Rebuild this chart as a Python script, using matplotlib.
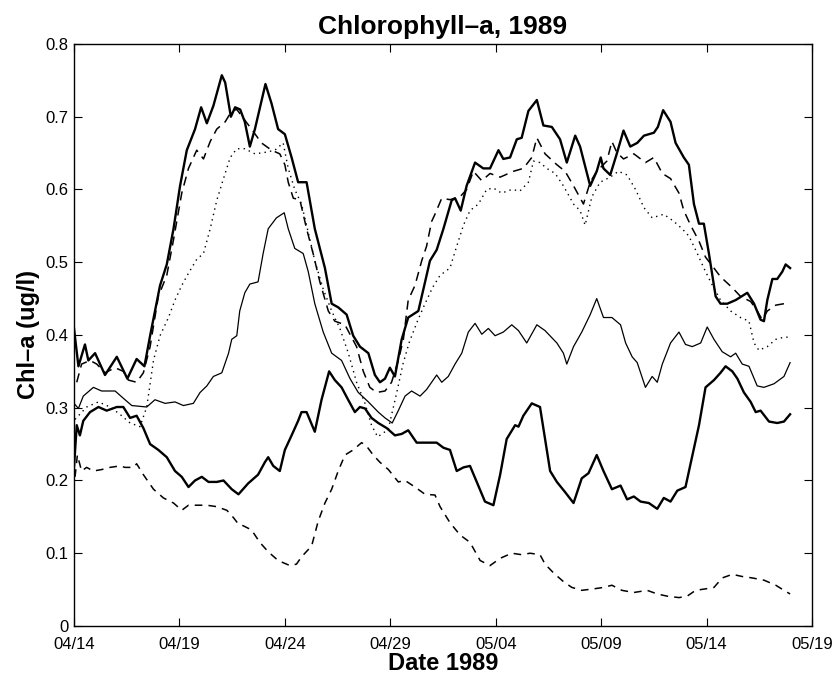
import numpy as np
import matplotlib
matplotlib.use("Agg")
import matplotlib.pyplot as plt
import matplotlib.dates as mdates
from datetime import datetime

""" Values read off the chart: days after 04/14/1989, Chl-a (ug/l) """
start = datetime(1989, 4, 14)
tick_labels = ["04/14", "04/19", "04/24", "04/29", "05/04", "05/09", "05/14", "05/19"]

# thick solid, upper
a_day = [0, 0.21, 0.52, 0.68, 1.0, 1.47, 2.03, 2.53, 2.97, 3.34, 3.61, 4.08, 4.40, 4.72,
         5.03, 5.35, 5.74, 6.03, 6.30, 6.61, 7.01, 7.17, 7.44, 7.64, 7.88, 8.10, 8.34, 8.58,
         9.08, 9.37, 9.68, 10.0, 10.32, 10.63, 11.03, 11.42, 11.90, 12.22, 12.53, 12.93,
         13.24, 13.56, 13.96, 14.27, 14.51, 14.75, 14.98, 15.22, 15.54, 15.85, 16.33, 16.65,
         16.88, 17.2, 17.52, 17.91, 18.07, 18.34, 18.62, 19.02, 19.41, 19.73, 20.13, 20.36,
         20.68, 21.0, 21.23, 21.55, 21.95, 22.26, 22.66, 23.05, 23.37, 23.77, 24.0, 24.48,
         24.79, 24.98, 25.11, 25.43, 25.74, 26.06, 26.38, 26.71, 27.03, 27.5, 27.69, 27.94,
         28.29, 28.53, 28.92, 29.16, 29.40, 29.64, 29.87, 30.11, 30.43, 30.66, 30.98, 31.38,
         31.93, 32.25, 32.56, 32.72, 32.88, 33.12, 33.35, 33.59, 33.75, 33.96]
a_val = [0.409, 0.357, 0.387, 0.365, 0.375, 0.345, 0.370, 0.340, 0.367, 0.357, 0.399, 0.468,
         0.497, 0.546, 0.605, 0.654, 0.683, 0.713, 0.691, 0.715, 0.757, 0.747, 0.700, 0.713,
         0.710, 0.693, 0.659, 0.683, 0.745, 0.718, 0.683, 0.676, 0.644, 0.610, 0.610, 0.546,
         0.492, 0.443, 0.438, 0.428, 0.399, 0.384, 0.375, 0.345, 0.335, 0.340, 0.355, 0.343,
         0.394, 0.424, 0.433, 0.473, 0.502, 0.517, 0.546, 0.585, 0.588, 0.571, 0.605, 0.637,
         0.629, 0.629, 0.654, 0.642, 0.644, 0.669, 0.671, 0.708, 0.723, 0.688, 0.686, 0.669,
         0.637, 0.674, 0.659, 0.605, 0.625, 0.644, 0.629, 0.620, 0.649, 0.681, 0.659, 0.664,
         0.674, 0.678, 0.686, 0.709, 0.693, 0.664, 0.644, 0.634, 0.580, 0.553, 0.553, 0.512,
         0.453, 0.443, 0.443, 0.448, 0.458, 0.443, 0.421, 0.419, 0.448, 0.477, 0.477, 0.487,
         0.497, 0.492]

# dashed, upper
b_day = [0.13, 0.36, 0.76, 1.08, 1.47, 1.95, 2.34, 2.58, 2.97, 3.29, 3.61, 4.0, 4.40, 4.72,
         5.11, 5.43, 5.82, 6.14, 6.46, 6.77, 7.17, 7.48, 7.72, 8.42, 8.89, 9.37, 9.76, 10.0,
         10.16, 10.40, 10.71, 11.03, 11.34, 11.66, 12.06, 12.37, 12.85, 13.4, 13.72, 14.03,
         14.35, 14.75, 15.06, 15.38, 15.62, 15.85, 16.17, 16.49, 16.72, 16.96, 17.12, 17.44,
         17.83, 18.31, 18.62, 18.94, 19.34, 19.73, 20.21, 20.84, 21.31, 21.71, 21.95, 22.34,
         22.90, 23.29, 23.69, 24.16, 24.48, 24.79, 25.27, 25.51, 25.74, 26.06, 26.55, 27.1,
         27.5, 27.9, 28.29, 28.69, 28.92, 29.24, 29.64, 29.95, 30.27, 30.66, 31.22, 31.61,
         32.09, 32.40, 32.64, 32.88, 33.28, 33.67, 33.96]
b_val = [0.335, 0.360, 0.365, 0.360, 0.348, 0.355, 0.350, 0.338, 0.335, 0.348, 0.384, 0.453,
         0.482, 0.531, 0.595, 0.629, 0.654, 0.642, 0.666, 0.683, 0.693, 0.708, 0.710, 0.683,
         0.664, 0.654, 0.649, 0.634, 0.610, 0.588, 0.586, 0.546, 0.512, 0.473, 0.433, 0.419,
         0.414, 0.384, 0.350, 0.328, 0.321, 0.323, 0.335, 0.365, 0.394, 0.448, 0.468, 0.502,
         0.522, 0.556, 0.566, 0.588, 0.586, 0.590, 0.600, 0.625, 0.612, 0.622, 0.617, 0.625,
         0.629, 0.644, 0.671, 0.649, 0.634, 0.625, 0.605, 0.580, 0.610, 0.625, 0.639, 0.666,
         0.651, 0.642, 0.649, 0.637, 0.644, 0.622, 0.615, 0.595, 0.571, 0.551, 0.529, 0.507,
         0.495, 0.480, 0.465, 0.453, 0.446, 0.433, 0.421, 0.433, 0.441, 0.443, 0.443]

# dotted
c_day = [0.05, 0.6, 1.16, 1.71, 2.18, 2.66, 3.13, 3.45, 3.77, 4.08, 4.48, 4.79, 5.11, 5.43,
         5.82, 6.14, 6.46, 6.77, 7.09, 7.41, 7.72, 8.1, 8.58, 9.05, 9.53, 9.92, 10.16, 10.47,
         10.79, 11.11, 11.42, 11.82, 12.22, 12.61, 13.01, 13.4, 13.80, 14.11, 14.4, 14.9,
         15.3, 15.6, 15.9, 16.3, 16.6, 17.0, 17.36, 17.83, 18.15, 18.47, 18.78, 19.18, 19.57,
         19.89, 20.28, 20.76, 21.15, 21.55, 21.79, 22.10, 22.42, 22.82, 23.21, 23.69, 24.0,
         24.24, 24.56, 24.95, 25.43, 25.82, 26.23, 26.63, 27.03, 27.42, 27.97, 28.45, 28.84,
         29.16, 29.56, 29.87, 30.19, 30.66, 31.14, 31.61, 32.01, 32.25, 32.48, 32.88, 33.28,
         33.67, 33.96]
c_val = [0.284, 0.301, 0.308, 0.301, 0.291, 0.279, 0.274, 0.301, 0.365, 0.399, 0.424, 0.448,
         0.468, 0.485, 0.504, 0.512, 0.546, 0.585, 0.615, 0.644, 0.656, 0.656, 0.649, 0.651,
         0.654, 0.664, 0.629, 0.600, 0.580, 0.541, 0.502, 0.463, 0.433, 0.409, 0.375, 0.335,
         0.306, 0.276, 0.260, 0.270, 0.320, 0.360, 0.390, 0.420, 0.440, 0.465, 0.482, 0.492,
         0.522, 0.551, 0.571, 0.580, 0.600, 0.602, 0.595, 0.600, 0.598, 0.610, 0.639, 0.637,
         0.629, 0.622, 0.605, 0.580, 0.571, 0.551, 0.590, 0.610, 0.617, 0.625, 0.620, 0.600,
         0.575, 0.561, 0.566, 0.556, 0.546, 0.536, 0.512, 0.492, 0.473, 0.448, 0.433, 0.424,
         0.419, 0.389, 0.379, 0.384, 0.394, 0.397, 0.397]

# thin solid
d_day = [0, 0.21, 0.44, 0.92, 1.31, 1.95, 2.34, 2.74, 3.45, 3.84, 4.32, 4.79, 5.19, 5.66,
         5.98, 6.30, 6.61, 7.01, 7.33, 7.48, 7.72, 7.86, 8.10, 8.34, 8.73, 8.97, 9.21, 9.60,
         9.97, 10.16, 10.47, 10.87, 11.11, 11.42, 11.82, 12.22, 12.69, 13.09, 13.48, 13.96,
         14.43, 14.75, 15.09, 15.38, 15.70, 16.01, 16.41, 16.72, 17.2, 17.44, 17.75, 18.07,
         18.39, 18.7, 19.02, 19.34, 19.65, 19.97, 20.36, 20.76, 21.08, 21.47, 21.95, 22.34,
         22.90, 23.21, 23.37, 23.69, 24.08, 24.48, 24.79, 25.11, 25.51, 25.92, 26.16, 26.47,
         26.71, 27.1, 27.42, 27.66, 27.9, 28.29, 28.69, 29.0, 29.32, 29.72, 30.03, 30.35,
         30.74, 31.14, 31.38, 31.69, 32.01, 32.40, 32.72, 33.20, 33.67, 33.96]
d_val = [0.306, 0.299, 0.316, 0.328, 0.323, 0.323, 0.313, 0.303, 0.301, 0.311, 0.306, 0.308,
         0.303, 0.306, 0.321, 0.330, 0.343, 0.348, 0.375, 0.394, 0.399, 0.433, 0.458, 0.470,
         0.473, 0.512, 0.546, 0.561, 0.568, 0.546, 0.519, 0.512, 0.487, 0.443, 0.404, 0.375,
         0.365, 0.340, 0.321, 0.308, 0.294, 0.286, 0.279, 0.296, 0.316, 0.323, 0.316, 0.325,
         0.345, 0.335, 0.343, 0.360, 0.375, 0.404, 0.416, 0.401, 0.409, 0.399, 0.404, 0.414,
         0.406, 0.389, 0.414, 0.406, 0.389, 0.375, 0.360, 0.384, 0.404, 0.428, 0.450, 0.424,
         0.424, 0.414, 0.389, 0.370, 0.362, 0.328, 0.343, 0.335, 0.360, 0.389, 0.404, 0.387,
         0.384, 0.389, 0.411, 0.394, 0.377, 0.370, 0.375, 0.360, 0.357, 0.330, 0.328, 0.333,
         0.343, 0.362]

# thick solid, lower
e_day = [0, 0.13, 0.28, 0.44, 0.76, 1.16, 1.55, 2.03, 2.34, 2.66, 2.97, 3.29, 3.61, 4.0,
         4.40, 4.79, 5.11, 5.43, 5.74, 6.06, 6.38, 6.77, 7.09, 7.48, 7.80, 8.26, 8.73, 9.05,
         9.21, 9.45, 9.76, 10.0, 10.32, 10.63, 10.79, 11.03, 11.42, 11.74, 12.10, 12.37,
         12.69, 13.0, 13.32, 13.56, 13.80, 14.11, 14.43, 14.83, 15.22, 15.54, 15.85, 16.25,
         16.65, 17.2, 17.52, 17.83, 18.15, 18.47, 18.78, 19.10, 19.49, 19.89, 20.21, 20.52,
         20.92, 21.08, 21.31, 21.71, 22.10, 22.34, 22.58, 22.90, 23.29, 23.69, 24.08, 24.40,
         24.79, 25.11, 25.51, 25.92, 26.23, 26.55, 26.87, 27.26, 27.66, 27.97, 28.29, 28.61,
         29.0, 29.24, 29.64, 29.95, 30.35, 30.66, 30.90, 31.22, 31.46, 31.77, 32.09, 32.33,
         32.56, 32.96, 33.35, 33.67, 33.96]
e_val = [0.218, 0.276, 0.262, 0.282, 0.294, 0.301, 0.296, 0.301, 0.301, 0.286, 0.289, 0.272,
         0.250, 0.242, 0.232, 0.213, 0.205, 0.191, 0.200, 0.205, 0.198, 0.198, 0.200, 0.188,
         0.181, 0.196, 0.208, 0.225, 0.232, 0.220, 0.213, 0.242, 0.262, 0.282, 0.294, 0.294,
         0.267, 0.311, 0.350, 0.338, 0.328, 0.311, 0.294, 0.301, 0.299, 0.286, 0.279, 0.272,
         0.262, 0.264, 0.269, 0.252, 0.252, 0.252, 0.245, 0.242, 0.213, 0.218, 0.220, 0.198,
         0.171, 0.166, 0.208, 0.257, 0.276, 0.274, 0.289, 0.306, 0.301, 0.257, 0.213, 0.198,
         0.184, 0.169, 0.203, 0.210, 0.235, 0.213, 0.188, 0.193, 0.174, 0.178, 0.171, 0.169,
         0.161, 0.176, 0.171, 0.186, 0.191, 0.223, 0.276, 0.328, 0.338, 0.348, 0.357, 0.350,
         0.340, 0.321, 0.308, 0.294, 0.296, 0.281, 0.279, 0.281, 0.291]

# dashed, lower
f_day = [0.05, 0.16, 0.36, 0.6, 0.92, 1.31, 1.71, 2.18, 2.42, 2.82, 2.97, 3.29, 3.77, 4.24,
         4.72, 5.11, 5.43, 5.82, 6.30, 6.77, 7.25, 7.56, 7.80, 7.94, 8.42, 8.81, 9.21, 9.68,
         10.24, 10.55, 10.79, 11.27, 11.58, 11.90, 12.22, 12.53, 12.85, 13.24, 13.64, 13.88,
         14.19, 14.51, 14.91, 15.38, 15.70, 16.17, 16.65, 17.12, 17.36, 17.83, 18.31, 18.78,
         19.26, 19.73, 20.21, 20.76, 21.23, 21.63, 22.10, 22.34, 22.74, 23.21, 23.61, 24.08,
         24.64, 25.11, 25.51, 25.98, 26.55, 27.18, 27.66, 28.13, 28.69, 29.08, 29.48, 29.95,
         30.35, 30.74, 31.22, 31.69, 32.17, 32.72, 33.28, 33.67, 33.96]
f_val = [0.205, 0.235, 0.213, 0.218, 0.213, 0.215, 0.218, 0.220, 0.218, 0.218, 0.223, 0.208,
         0.188, 0.176, 0.169, 0.159, 0.166, 0.166, 0.166, 0.164, 0.159, 0.149, 0.140, 0.139,
         0.132, 0.115, 0.102, 0.090, 0.083, 0.085, 0.095, 0.110, 0.144, 0.169, 0.188, 0.213,
         0.235, 0.242, 0.252, 0.247, 0.235, 0.225, 0.215, 0.198, 0.200, 0.191, 0.181, 0.180,
         0.164, 0.142, 0.125, 0.115, 0.090, 0.083, 0.093, 0.100, 0.098, 0.100, 0.098, 0.085,
         0.073, 0.061, 0.053, 0.049, 0.051, 0.053, 0.056, 0.049, 0.046, 0.049, 0.044, 0.041,
         0.039, 0.041, 0.049, 0.051, 0.053, 0.066, 0.071, 0.068, 0.066, 0.063, 0.056, 0.049,
         0.044]


def to_dates(days):
    return mdates.date2num(start) + np.asarray(days)


""" Plot """
plt.rcParams['font.family'] = ['Liberation Sans', 'DejaVu Sans']
fig = plt.figure(figsize=(8.38, 6.81), dpi=100)
ax = fig.add_axes([0.0883, 0.0808, 0.8807, 0.8546])

ax.plot(to_dates(a_day), a_val, color='black', lw=1.7, ls='-')
ax.plot(to_dates(b_day), b_val, color='black', lw=1.1, ls=(0, (6, 4)))
ax.plot(to_dates(c_day), c_val, color='black', lw=1.0, ls=(0, (1, 3)))
ax.plot(to_dates(d_day), d_val, color='black', lw=0.9, ls='-')
ax.plot(to_dates(e_day), e_val, color='black', lw=1.7, ls='-')
ax.plot(to_dates(f_day), f_val, color='black', lw=1.1, ls=(0, (5, 4)))

ticks = to_dates(np.arange(0, 36, 5))
ax.set_xticks(ticks)
ax.set_xticklabels(tick_labels)
ax.set_xlim(ticks[0], ticks[-1])
ax.set_ylim(0, 0.8)
ax.set_yticks(np.arange(0, 0.81, 0.1))
ax.set_yticklabels(['0', '0.1', '0.2', '0.3', '0.4', '0.5', '0.6', '0.7', '0.8'])

ax.tick_params(direction='in', top=True, right=True, length=6, width=0.8,
               labelsize=12)
ax.tick_params(axis='x', pad=8)
ax.tick_params(axis='y', pad=4)
for s in ax.spines.values():
    s.set_linewidth(1.0)

ax.set_title('Chlorophyll\u2013a, 1989', fontsize=19, fontweight='bold', pad=7)
ax.set_xlabel('Date 1989', fontsize=17, fontweight='bold', labelpad=0)
ax.set_ylabel('Chl\u2013a (ug/l)', fontsize=17, fontweight='bold', labelpad=4)

plt.savefig('out.png', dpi=100)
